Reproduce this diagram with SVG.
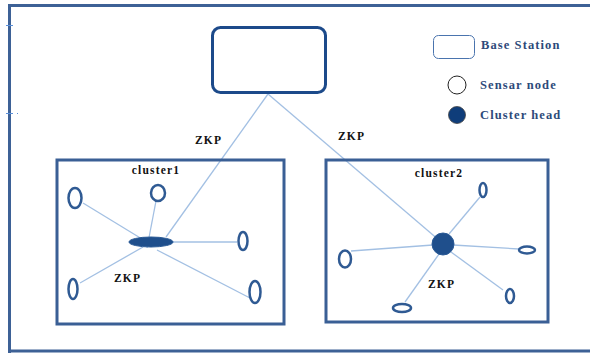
<svg xmlns="http://www.w3.org/2000/svg" width="590" height="353" viewBox="0 0 590 353">
<style>
.frame{fill:none;stroke:#3d6196;stroke-width:3}
.box{fill:none;stroke:#3a5f95;stroke-width:3}
.link{stroke:#a3c0e3;stroke-width:1.3;fill:none}
.sn{fill:#fff;stroke:#2f5a93;stroke-width:2.5}
.ch{fill:#1f4f8c;stroke:#2a5a96;stroke-width:1}
.lbl{font-family:"Liberation Serif",serif;font-weight:bold;font-size:11.5px;fill:#111;letter-spacing:1.2px}
.leg{font-family:"Liberation Serif",serif;font-weight:bold;font-size:12.5px;fill:#2d4a7a;letter-spacing:1.1px}
.tick{stroke:#5a8fd8;stroke-width:1}
</style>
<rect width="590" height="353" fill="#fff"/>
<g id="frame">
<path class="frame" d="M9.5,353 V5.5 H590"/>
<path class="frame" d="M9.5,351 H590" stroke-width="2"/>
<line class="tick" x1="6" y1="25.5" x2="13" y2="25.5"/>
<line class="tick" x1="6" y1="113.5" x2="13" y2="113.5"/>
<rect x="17" y="113" width="1" height="1" fill="#5a8fd8"/>
</g>
<g id="connectors">
<line class="link" x1="268" y1="94" x2="166" y2="237"/>
<line class="link" x1="268" y1="94" x2="440" y2="241"/>
<line class="link" x1="83" y1="203" x2="142" y2="239"/>
<line class="link" x1="156" y1="201" x2="147" y2="248"/>
<line class="link" x1="170" y1="242" x2="237" y2="242"/>
<line class="link" x1="80" y1="283" x2="143" y2="247"/>
<line class="link" x1="157" y1="250" x2="250" y2="298"/>
<line class="link" x1="449" y1="234" x2="480" y2="197"/>
<line class="link" x1="453" y1="245" x2="519" y2="249"/>
<line class="link" x1="451" y1="252" x2="503" y2="290"/>
<line class="link" x1="439" y1="254" x2="405" y2="302"/>
<line class="link" x1="351" y1="251" x2="433" y2="245"/>
</g>
<g id="base-station">
<rect x="212.5" y="27.5" width="113" height="65" rx="8" fill="#fff" stroke="#1c4a8a" stroke-width="3"/>
</g>
<g id="legend">
<rect x="433.5" y="35.5" width="41" height="23" rx="5" fill="#fff" stroke="#4a74ae" stroke-width="1"/>
<text class="leg" x="481" y="49">Base Station</text>
<circle cx="457" cy="85" r="9" fill="#fff" stroke="#222" stroke-width="1"/>
<text class="leg" x="480" y="89">Sensar node</text>
<circle cx="457" cy="115" r="8.5" fill="#0f3d7a" stroke="#444" stroke-width="0.8"/>
<text class="leg" x="480" y="119">Cluster head</text>
</g>
<g id="zkp-labels">
<text class="lbl" x="195" y="144">ZKP</text>
<text class="lbl" x="338" y="140">ZKP</text>
</g>
<g id="cluster1">
<rect class="box" x="57" y="160" width="227" height="164"/>
<text class="lbl" x="156" y="174" text-anchor="middle">cluster1</text>
<ellipse class="sn" cx="75" cy="198" rx="6.5" ry="10"/>
<ellipse class="sn" cx="158" cy="193" rx="7" ry="8"/>
<ellipse class="sn" cx="243" cy="241" rx="4.5" ry="9"/>
<ellipse class="sn" cx="73" cy="289" rx="4.5" ry="10"/>
<ellipse class="sn" cx="255" cy="292" rx="5.5" ry="11"/>
<ellipse class="ch" cx="151" cy="242" rx="22" ry="5"/>
<text class="lbl" x="114" y="282">ZKP</text>
</g>
<g id="cluster2">
<rect class="box" x="326" y="160" width="222" height="162"/>
<text class="lbl" x="439" y="177" text-anchor="middle">cluster2</text>
<ellipse class="sn" cx="483" cy="190" rx="3.5" ry="7"/>
<ellipse class="sn" cx="527" cy="250" rx="8" ry="3.5"/>
<ellipse class="sn" cx="510" cy="296" rx="4" ry="7"/>
<ellipse class="sn" cx="402" cy="308" rx="9" ry="4"/>
<ellipse class="sn" cx="345" cy="259" rx="6" ry="8.5"/>
<circle class="ch" cx="443" cy="244" r="11"/>
<text class="lbl" x="428" y="288">ZKP</text>
</g>
</svg>
